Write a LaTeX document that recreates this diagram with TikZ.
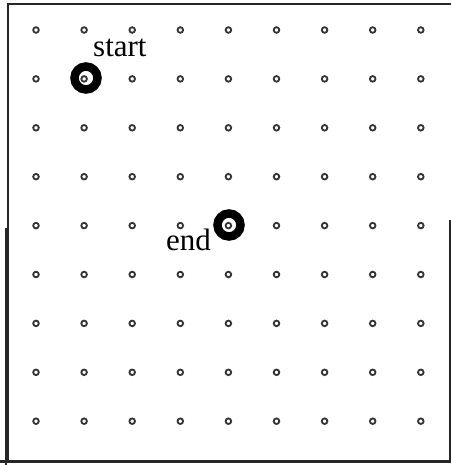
\documentclass[tikz,border=0pt]{standalone}
\usepackage{fontspec}
\setmainfont{Liberation Serif}
\begin{document}
\begin{tikzpicture}[x=1pt,y=-1pt,
  dot/.style={circle,draw=black!80,line width=1.8pt,minimum size=5.6pt,inner sep=0pt},
  ring/.style={circle,draw=black,line width=8.5pt,minimum size=23pt,inner sep=0pt},
  lbl/.style={font=\fontsize{31}{31}\selectfont,inner sep=0pt,anchor=base west},
  frame/.style={draw=black!85,line width=2pt}]
\useasboundingbox (0,0) rectangle (451,465);
\node[ring] (s) at (86,78) {};
\node[ring] (e) at (229,225) {};
\foreach \i in {0,...,8}{
  \foreach \j in {0,...,8}{
    \node[dot] (p-\i-\j) at ({36+48.1*\i},{30+48.9*\j}) {};
  }
}
\node[lbl] (st) at (93,57) {start};
\node[lbl] (en) at (166,250) {end};
\coordinate (tl) at (8,4);
\coordinate (tr) at (451,4);
\coordinate (bl) at (8,461);
\coordinate (bl2) at (0,461);
\coordinate (br) at (451,461);
\coordinate (rt) at (450,220);
\coordinate (rb) at (450,461);
\coordinate (lt2) at (6,228);
\coordinate (lb2) at (6,465);
\draw[frame] (tr) -- (tl) -- (bl);
\draw[frame,line width=3pt] (bl2) -- (br);
\draw[frame] (rt) -- (rb);
\draw[frame,line width=2.5pt] (lt2) -- (lb2);
\end{tikzpicture}
\end{document}
